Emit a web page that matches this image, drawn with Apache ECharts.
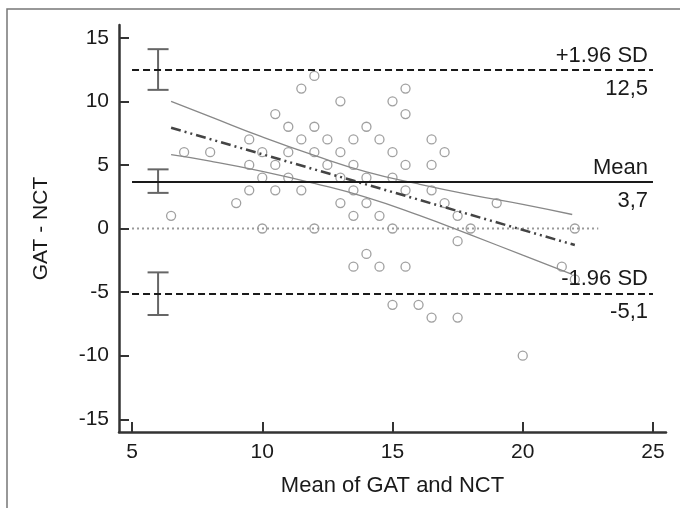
<!DOCTYPE html>
<html>
<head>
    <meta charset="UTF-8">
    <title>GAT - NCT Bland-Altman</title>
    <script src="https://cdn.jsdelivr.net/npm/echarts@6/dist/echarts.min.js"></script>
</head>
<body style="margin: 0">
    <div id="main" style="width: 680px; height: 508px"></div>
    <script type="text/javascript">
        // points: mean of GAT and NCT / difference GAT - NCT
        var meanVals = [6.5, 7, 8, 9, 9.5, 9.5, 9.5, 10, 10, 10, 10.5, 10.5, 10.5, 11, 11, 11,
            11.5, 11.5, 11.5, 12, 12, 12, 12, 12.5, 12.5, 13, 13, 13, 13, 13.5, 13.5, 13.5, 13.5, 13.5,
            14, 14, 14, 14, 14.5, 14.5, 14.5, 15, 15, 15, 15, 15, 15.5, 15.5, 15.5, 15.5, 15.5, 16,
            16.5, 16.5, 16.5, 16.5, 17, 17, 17.5, 17.5, 17.5, 18, 19, 20, 21.5, 22, 22];
        var diffVals = [1, 6, 6, 2, 7, 5, 3, 6, 4, 0, 9, 5, 3, 8, 6, 4,
            11, 7, 3, 12, 8, 6, 0, 7, 5, 10, 6, 4, 2, 7, 5, 3, 1, -3,
            8, 4, 2, -2, 7, 1, -3, 10, 6, 4, 0, -6, 11, 9, 5, 3, -3, -6,
            7, 5, 3, -7, 6, 2, 1, -1, -7, 0, 2, -10, -3, -4, 0];

        // limits of agreement
        var limitNames = ['+1.96 SD', 'Mean', '-1.96 SD'];
        var limitVals = [12.5, 3.7, -5.1];
        var limitText = ['12,5', '3,7', '-5,1'];
        var limitDash = [[7, 4], 'solid', [7, 4]];
        var limitFrom = 5, limitTo = 25;

        // confidence intervals of the limits (x, low, high)
        var ciBars = [[6, 10.9, 14.1], [6, 2.8, 4.65], [6, -6.8, -3.45]];

        // regression line and its confidence band
        var regLine = [[6.5, 7.92], [22, -1.3]];
        var bandX = [6.5, 8, 10, 12, 14, 16, 18, 20, 21.9];
        var bandUpper = [10.0, 8.8, 7.2, 5.75, 4.45, 3.5, 2.65, 1.9, 1.1];
        var bandLower = [5.8, 5.3, 4.5, 3.55, 2.45, 1.05, -0.5, -2.1, -3.6];

        var zeroLine = [[5, 0], [22.9, 0]];

        var xTicks = [5, 10, 15, 20, 25];
        var yTicks = [-15, -10, -5, 0, 5, 10, 15];

        var FONT = '"Liberation Sans", Arial, sans-serif';
        var myChart = echarts.init(document.getElementById('main'));

        var points = meanVals.map(function (x, i) { return [x, diffVals[i]]; });
        var upper = bandX.map(function (x, i) { return [x, bandUpper[i]]; });
        var lower = bandX.map(function (x, i) { return [x, bandLower[i]]; });

        var markData = [];
        limitVals.forEach(function (v, i) {
            var ls = { color: '#1a1a1a', width: 2, type: limitDash[i] };
            markData.push([
                { coord: [limitFrom, v], lineStyle: ls,
                  label: { formatter: limitNames[i], position: 'insideEndTop', distance: [5, 3] } },
                { coord: [limitTo, v] }
            ]);
            // second, invisible line only carries the value below
            markData.push([
                { coord: [limitFrom, v], lineStyle: { color: 'rgba(0,0,0,0)', width: 1 },
                  label: { formatter: limitText[i], position: 'insideEndBottom', distance: [5, 8], color: '#1a1a1a' } },
                { coord: [limitTo, v] }
            ]);
        });

        function axisStyle(ticks) {
            return {
                axisLine: { onZero: false, lineStyle: { color: '#333', width: 2.5 } },
                axisTick: { inside: true, length: 10, customValues: ticks, lineStyle: { color: '#333', width: 2 } },
                axisLabel: { customValues: ticks, margin: 10, fontSize: 21, color: '#1a1a1a', fontFamily: FONT },
                splitLine: { show: false }
            };
        }

        var xAxis = Object.assign({
            type: 'value', min: 4.5, max: 25.5,
            name: 'Mean of GAT and NCT', nameLocation: 'middle', nameGap: 43,
            nameTextStyle: { fontSize: 22, color: '#1a1a1a', fontFamily: FONT }
        }, axisStyle(xTicks));
        var yAxis = Object.assign({
            type: 'value', min: -16, max: 16,
            name: 'GAT - NCT', nameLocation: 'middle', nameGap: 67,
            nameTextStyle: { fontSize: 21, color: '#1a1a1a', fontFamily: FONT }
        }, axisStyle(yTicks));

        var option = {
            animation: false,
            backgroundColor: '#fff',
            grid: { left: 119, right: 14, top: 25, bottom: 76 },
            xAxis: xAxis,
            yAxis: yAxis,
            graphic: [{
                type: 'rect', silent: true,
                shape: { x: 7, y: 9, width: 700, height: 600 },
                style: { fill: 'none', stroke: '#777', lineWidth: 1.5 }
            }],
            series: [
                {
                    type: 'line', data: zeroLine, symbol: 'none', silent: true,
                    lineStyle: { color: '#999', width: 2, type: [2, 3] }
                },
                {
                    type: 'line', data: upper, smooth: true, symbol: 'none', silent: true,
                    lineStyle: { color: '#888', width: 1.3 }
                },
                {
                    type: 'line', data: lower, smooth: true, symbol: 'none', silent: true,
                    lineStyle: { color: '#888', width: 1.3 }
                },
                {
                    type: 'line', data: regLine, symbol: 'none', silent: true,
                    lineStyle: { color: '#444', width: 2.5, type: [10, 4, 2, 4, 2, 4] }
                },
                {
                    type: 'custom', data: ciBars, silent: true,
                    encode: { x: 0, y: [1, 2] },
                    renderItem: function (params, api) {
                        var x = api.value(0);
                        var lo = api.coord([x, api.value(1)]);
                        var hi = api.coord([x, api.value(2)]);
                        var w = 10.5;
                        var st = { stroke: '#666', lineWidth: 2 };
                        return {
                            type: 'group',
                            children: [
                                { type: 'line', shape: { x1: lo[0], y1: lo[1], x2: hi[0], y2: hi[1] }, style: st },
                                { type: 'line', shape: { x1: lo[0] - w, y1: lo[1], x2: lo[0] + w, y2: lo[1] }, style: st },
                                { type: 'line', shape: { x1: hi[0] - w, y1: hi[1], x2: hi[0] + w, y2: hi[1] }, style: st }
                            ]
                        };
                    }
                },
                {
                    type: 'scatter', data: points, symbol: 'circle', symbolSize: 9,
                    itemStyle: { color: 'rgba(0,0,0,0)', borderColor: '#888', borderWidth: 1.3 },
                    markLine: {
                        silent: true, symbol: ['none', 'none'],
                        label: { fontSize: 22, color: '#1a1a1a', fontFamily: FONT },
                        data: markData
                    }
                }
            ]
        };

        myChart.setOption(option);
    </script>
</body>
</html>
